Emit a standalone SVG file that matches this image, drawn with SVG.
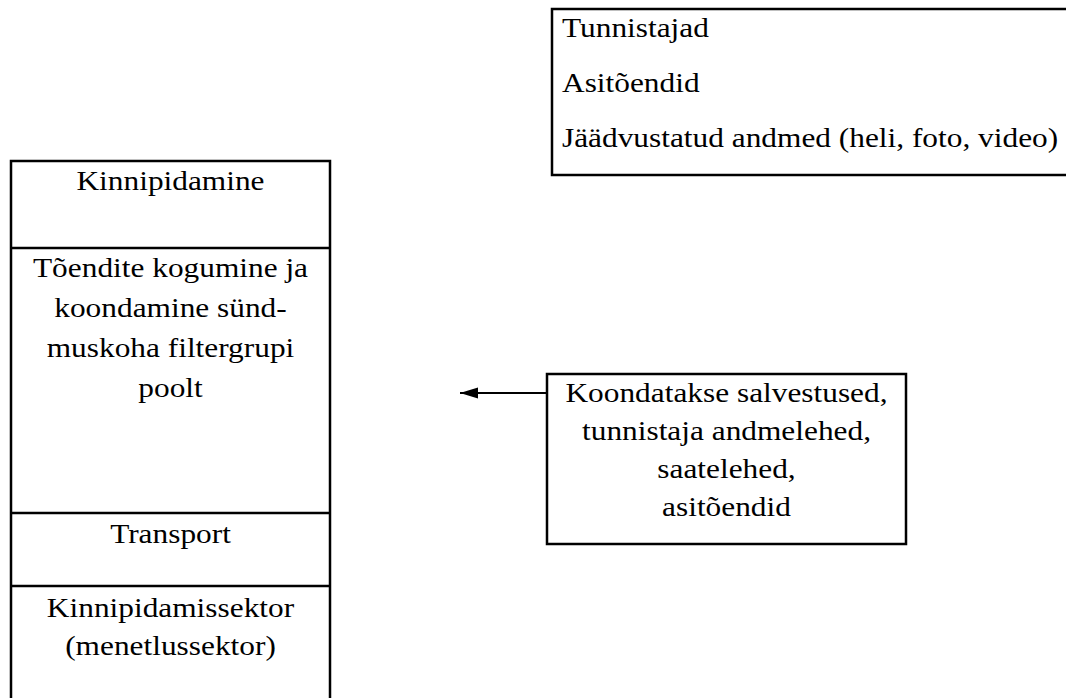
<svg xmlns="http://www.w3.org/2000/svg" width="1066" height="698" viewBox="0 0 1066 698">
<style>
.box{fill:#fff;stroke:#000;stroke-width:2.5}
.div{stroke:#000;stroke-width:2.5}
.t{font-family:"Liberation Serif","Times New Roman",serif;font-size:26.8px;fill:#000}
.m{text-anchor:middle}
.conn{stroke:#000;stroke-width:2;fill:none}
</style>
<defs>
<marker id="ah" markerWidth="20" markerHeight="12" refX="18" refY="6" orient="auto" markerUnits="userSpaceOnUse">
<path d="M0,0.5 L18,6 L0,11.5 Z" fill="#000"/>
</marker>
</defs>
<rect width="1066" height="698" fill="#fff"/>
<g id="evidence-list">
<rect class="box" x="552" y="9" width="530" height="166"/>
<text class="t" transform="translate(562,37) scale(1.17,1)">Tunnistajad</text>
<text class="t" transform="translate(562,92) scale(1.17,1)">Asitõendid</text>
<text class="t" transform="translate(562,147) scale(1.17,1)">Jäädvustatud andmed (heli, foto, video)</text>
</g>
<g id="process-column">
<rect class="box" x="11" y="161" width="319" height="545"/>
<line class="div" x1="11" y1="248" x2="330" y2="248"/>
<line class="div" x1="11" y1="513" x2="330" y2="513"/>
<line class="div" x1="11" y1="586" x2="330" y2="586"/>
</g>
<g id="kinnipidamine">
<text class="t m" transform="translate(170.5,190) scale(1.17,1)">Kinnipidamine</text>
</g>
<g id="toendite-kogumine">
<text class="t m" transform="translate(170.5,277) scale(1.17,1)">Tõendite kogumine ja</text>
<text class="t m" transform="translate(170.5,317) scale(1.17,1)">koondamine sünd-</text>
<text class="t m" transform="translate(170.5,357) scale(1.17,1)">muskoha filtergrupi</text>
<text class="t m" transform="translate(170.5,397) scale(1.17,1)">poolt</text>
</g>
<g id="transport">
<text class="t m" transform="translate(170.5,543) scale(1.17,1)">Transport</text>
</g>
<g id="kinnipidamissektor">
<text class="t m" transform="translate(170.5,617) scale(1.17,1)">Kinnipidamissektor</text>
<text class="t m" transform="translate(170.5,655) scale(1.17,1)">(menetlussektor)</text>
</g>
<g id="koondatakse">
<rect class="box" x="547" y="374" width="359" height="170"/>
<text class="t m" transform="translate(726.5,402) scale(1.17,1)">Koondatakse salvestused,</text>
<text class="t m" transform="translate(726.5,440) scale(1.17,1)">tunnistaja andmelehed,</text>
<text class="t m" transform="translate(726.5,478) scale(1.17,1)">saatelehed,</text>
<text class="t m" transform="translate(726.5,516) scale(1.17,1)">asitõendid</text>
</g>
<g id="connectors">
<line class="conn" x1="546" y1="393" x2="460" y2="393" marker-end="url(#ah)"/>
</g>
</svg>
